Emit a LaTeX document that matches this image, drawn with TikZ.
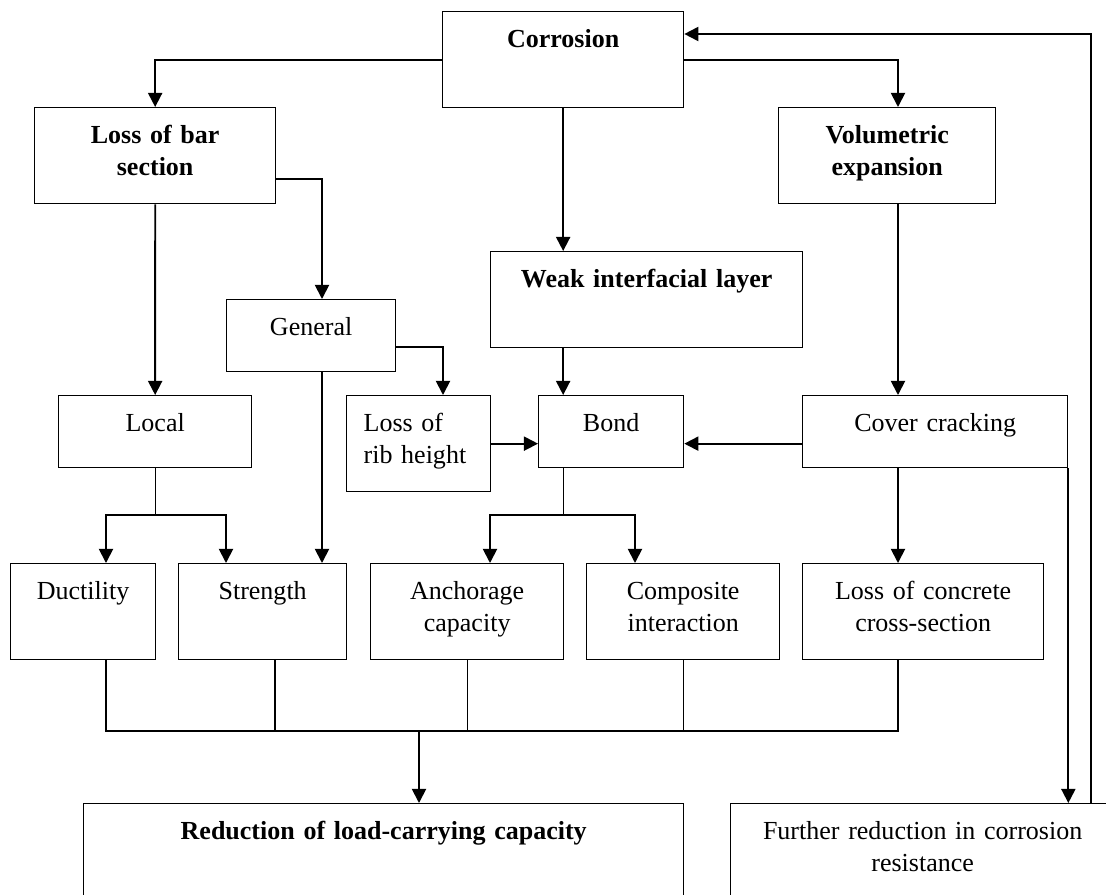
\documentclass[tikz,border=0pt]{standalone}
\usepackage{fontspec}
\setmainfont{Liberation Serif}
\usepackage{tikz}
\usetikzlibrary{arrows.meta}

\begin{document}
\begin{tikzpicture}[
    x=0.025cm, y=-0.025cm,
    box/.style={draw, rectangle, line width=0.9pt, inner sep=0pt, anchor=north west,
        align=center, text height=0.9cm, font=\fontsize{18.5}{22.4}\selectfont},
    hd/.style={font=\fontsize{18.5}{22.4}\selectfont\bfseries},
    tall/.style={text depth=1.5cm},
    short/.style={text depth=0.9cm},
    arrow/.style={-{Triangle[length=10pt,width=10pt]}, line width=1.3pt},
    line/.style={line width=0.9pt}
]
\useasboundingbox (0,0) rectangle (1106,895);
\clip (0,0) rectangle (1106,895);

% top row
\node[box, hd, tall, text width=6.025cm] (corr) at (442,11) {Corrosion};
\node[box, hd, tall, text width=6.025cm] (lbs) at (34,107) {Loss of bar\\section};
\node[box, hd, tall, text width=5.425cm] (vol) at (778,107) {Volumetric\\expansion};
\node[box, hd, tall, text width=7.8cm] (weak) at (490,251) {Weak interfacial layer};

% middle row
\node[box, short, text width=4.225cm] (gen) at (226,299) {General};
\node[box, short, text width=4.825cm] (local) at (58,395) {Local};
\node[box, tall, align=left, text width=2.75cm, minimum width=3.6cm] (rib) at (346,395) {Loss of\\rib height};
\node[box, short, text width=3.625cm] (bond) at (538,395) {Bond};
\node[box, short, text width=6.625cm] (cover) at (802,395) {Cover cracking};

% effects
\node[box, tall, text width=3.625cm] (duct) at (10,563) {Ductility};
\node[box, tall, text width=4.2cm] (str) at (178,563) {Strength};
\node[box, tall, text width=4.825cm] (anch) at (370,563) {Anchorage\\capacity};
\node[box, tall, text width=4.825cm] (comp) at (586,563) {Composite\\interaction};
\node[box, tall, text width=6.025cm] (conc) at (802,563) {Loss of concrete\\cross-section};

% bottom row
\node[box, hd, text depth=3cm, text width=15cm] (red) at (83,803) {Reduction of load-carrying capacity};
\node[box, text depth=3cm, text width=9.6cm] (fur) at (730,803) {Further reduction in corrosion\\resistance};

% off-centre columns
\coordinate (c1) at (322,179);
\coordinate (c2) at (443,347);
\coordinate (c3) at (898,0);
\coordinate (c4) at (419,731);
\coordinate (l1) at (106,515);
\coordinate (l2) at (226,515);
\coordinate (b1) at (490,515);
\coordinate (b2) at (635,515);
\coordinate (d2) at (275,731);
\coordinate (fb) at (1091,34);

% from corrosion
\draw[arrow] (corr.west) -| (lbs.north);
\draw[arrow] (corr.east) -| (c3 |- vol.north);
\draw[arrow] (corr.south) -- (corr.south |- weak.north);
\draw[arrow] (fb |- fur.north) -- (fb) -- (fb -| corr.east);

% bar section
\draw[arrow] (lbs.east |- c1) -| (c1 |- gen.north);
\draw[arrow] (lbs.south) -- (local.north);
\draw[arrow] (gen.east |- c2) -| (c2 |- rib.north);
\draw[arrow] (c1 |- gen.south) -- (c1 |- str.north);

% bond
\draw[arrow] (corr.south |- weak.south) -- (corr.south |- bond.north);
\draw[arrow] (rib.east) -- (rib.east -| bond.west);
\draw[arrow] (rib.east -| cover.west) -- (rib.east -| bond.east);

% expansion
\draw[arrow] (c3 |- vol.south) -- (c3 |- cover.north);
\draw[arrow] (c3 |- cover.south) -- (c3 |- conc.north);
\draw[arrow] (cover.south east) -- (cover.south east |- fur.north);

% splits
\draw[line] (local.south) -- (local.south |- l1);
\draw[arrow] (local.south |- l1) -| (l1 |- duct.north);
\draw[arrow] (local.south |- l1) -| (l2 |- str.north);
\draw[line] (corr.south |- bond.south) -- (corr.south |- b1);
\draw[arrow] (corr.south |- b1) -| (b1 |- anch.north);
\draw[arrow] (corr.south |- b1) -| (b2 |- comp.north);

% collector
\draw[line] (l1 |- duct.south) |- (c3 |- c4) -- (c3 |- conc.south);
\draw[line] (d2 |- str.south) -- (d2);
\draw[line] (anch.south) -- (anch.south |- c4);
\draw[line] (comp.south) -- (comp.south |- c4);
\draw[arrow] (c4) -- (c4 |- red.north);

\end{tikzpicture}
\end{document}
